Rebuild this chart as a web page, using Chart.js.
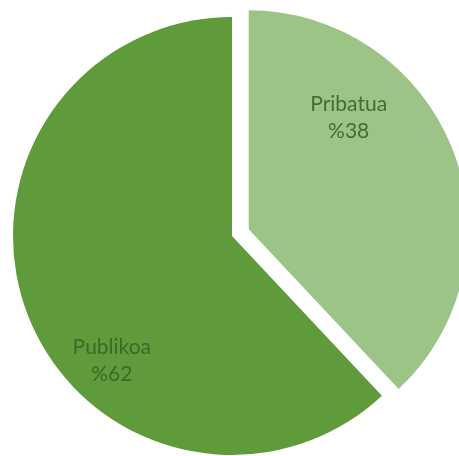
<!DOCTYPE html>
<html>
<head>
<meta charset="utf-8">
<script src="https://cdn.jsdelivr.net/npm/chart.js@4"></script>
<style>
html,body{margin:0;padding:0;background:#fff;}
#wrap{width:459px;height:456px;}
</style>
</head>
<body>
<div id="wrap"><canvas id="c" width="459" height="456"></canvas></div>
<script>
const categories = ["Pribatua", "Publikoa"];
const shares = [38, 62];
const valueLabels = ["%38", "%62"];

// pull-out distance (px) of each slice from the centre
const explodeBy = [18, 0];

const explodePlugin = {
  id: 'explode',
  beforeDatasetsDraw(chart) {
    const meta = chart.getDatasetMeta(0);
    meta.data.forEach((arc, i) => {
      const d = explodeBy[i];
      if (!d || arc._exploded) return;
      const orig = arc.draw;
      arc.draw = function (ctx) {
        const h = (this.startAngle + this.endAngle) / 2;
        ctx.save();
        ctx.translate(Math.cos(h) * d, Math.sin(h) * d);
        orig.call(this, ctx);
        ctx.restore();
      };
      arc._exploded = true;
    });
  }
};

const labelPlugin = {
  id: 'sliceLabels',
  afterDatasetsDraw(chart) {
    const ctx = chart.ctx;
    const meta = chart.getDatasetMeta(0);
    // label placement: angle from top (deg, clockwise) and distance as fraction of radius
    const place = [[44.5, 0.76], [224, 0.79]];
    const colors = ['#406f31', '#3b6a27'];
    meta.data.forEach((arc, i) => {
      const p = arc.getProps(['x', 'y', 'outerRadius'], true);
      const a = (place[i][0] - 90) * Math.PI / 180;
      const r = place[i][1] * p.outerRadius;
      const cx = p.x + Math.cos(a) * r;
      const cy = p.y + Math.sin(a) * r;
      ctx.save();
      ctx.fillStyle = colors[i];
      ctx.font = '21px Lato, "Open Sans", sans-serif';
      ctx.textAlign = 'center';
      ctx.textBaseline = 'middle';
      ctx.fillText(categories[i], cx, cy - 13);
      ctx.fillText(valueLabels[i], cx, cy + 14);
      ctx.restore();
    });
  }
};

new Chart(document.getElementById('c'), {
  type: 'pie',
  data: {
    labels: categories,
    datasets: [{
      data: shares,
      backgroundColor: ['#9cc487', '#5f9b3b'],
      borderWidth: 0
    }]
  },
  options: {
    responsive: false,
    animation: false,
    radius: 219,
    layout: { padding: { left: 5, right: 0, top: 16, bottom: 0 } },
    plugins: { legend: { display: false }, tooltip: { enabled: false } }
  },
  plugins: [explodePlugin, labelPlugin]
});
</script>
</body>
</html>
